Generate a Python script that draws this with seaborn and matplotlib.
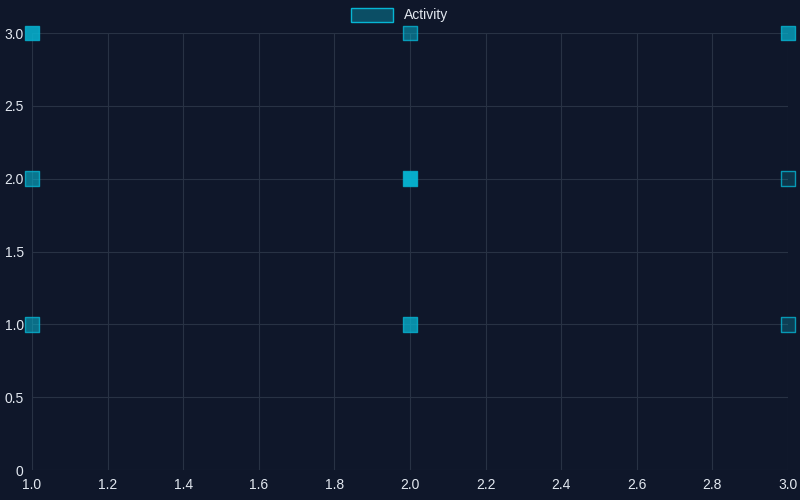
import matplotlib
matplotlib.use("Agg")
import matplotlib.pyplot as plt
import seaborn as sns
import pandas as pd
import numpy as np
from matplotlib.colors import to_rgba
from matplotlib.patches import Patch

xs = [1, 2, 3, 1, 2, 3, 1, 2, 3]
ys = [3, 3, 3, 2, 2, 2, 1, 1, 1]
intensity = [0.85, 0.5, 0.7, 0.6, 0.95, 0.2, 0.55, 0.75, 0.25]

bg = "#0f172a"
cyan = "#06b6d4"
sns.set_theme(style="dark")
plt.rcParams['font.family'] = ['Liberation Sans', 'DejaVu Sans']
fig = plt.figure(figsize=(8, 5), dpi=100, facecolor=bg)
ax = fig.add_axes([0.04, 0.06, 0.945, 0.874])
ax.set_facecolor(bg)
ax.set_axisbelow(True)

df = pd.DataFrame({"x": xs, "y": ys, "v": intensity})
fc = [to_rgba(cyan, a) for a in intensity]
sns.scatterplot(data=df, x="x", y="y", marker="s", s=110, ax=ax,
                facecolor=fc, edgecolor=to_rgba(cyan, 0.8), linewidth=1,
                clip_on=False, zorder=3, legend=False)

ax.set_xlim(1, 3)
ax.set_ylim(0, 3)
ax.set_xticks(np.arange(1.0, 3.01, 0.2))
ax.set_xticklabels([f"{t:.1f}" for t in np.arange(1.0, 3.01, 0.2)])
yt = [0, 0.5, 1, 1.5, 2, 2.5, 3]
ax.set_yticks(yt)
ax.set_yticklabels(["0"] + [f"{t:.1f}" for t in yt[1:]])
ax.grid(True, color="#283244", linewidth=0.8, alpha=1)
for s in ax.spines.values():
    s.set_visible(False)
ax.tick_params(colors="#e2e8f0", labelsize=10, length=0, pad=6)
ax.set_xlabel("")
ax.set_ylabel("")

h = Patch(facecolor=to_rgba(cyan, 0.35), edgecolor=cyan, linewidth=1)
fig.legend([h], ["Activity"], loc="upper center", bbox_to_anchor=(0.5, 1.01),
           frameon=False, labelcolor="#e2e8f0", fontsize=10,
           handlelength=3, handleheight=1.2)
fig.savefig("out.png", facecolor=bg)
